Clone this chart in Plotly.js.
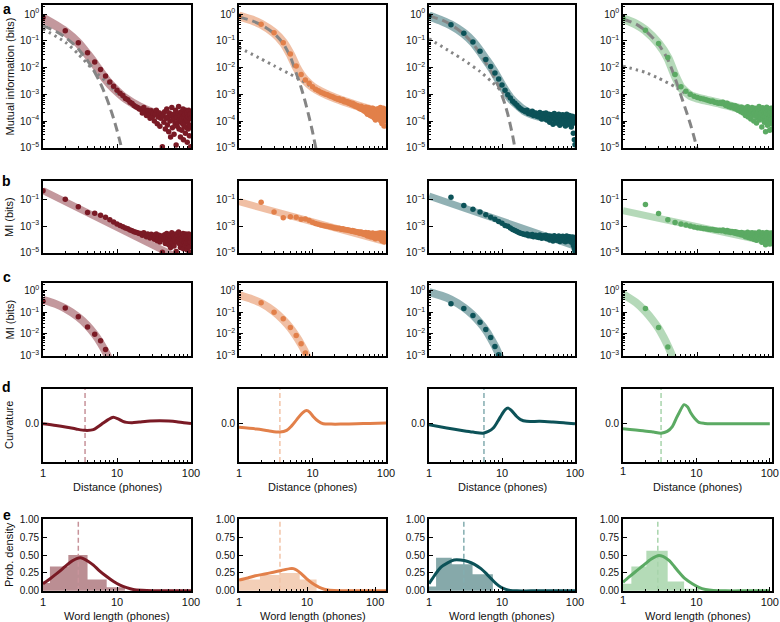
<!DOCTYPE html>
<html><head><meta charset="utf-8">
<script src="https://cdn.plot.ly/plotly-3.0.1.min.js"></script>
<style>html,body{margin:0;padding:0;background:#fff}#chart{width:780px;height:622px}</style>
</head><body><div id="chart"></div>
<script>
// ---------- DATA ----------
const dist = [1,2,3,4,5,6,7,8,9,10,11,12,13,14,15,16,17,18,19,20,21,22,23,24,25,26,27,28,29,30,31,32,33,34,35,36,37,38,39,40,41,42,43,44,45,46,47,48,49,50,51,52,53,54,55,56,57,58,59,60,61,62,63,64,65,66,67,68,69,70,71,72,73,74,75,76,77,78,79,80,81,82,83,84,85,86,87,88,89,90,91,92,93,94,95,96,97,98,99,100];

// Row a: mutual information by distance
const mi1 = [0.75,0.24,0.085,0.036,0.016,0.0085,0.0048,2.9e-3,2.0e-3,1.4e-3,
 1.1e-3,9e-4,7e-4,6.3e-4,5e-4,4.5e-4,3.8e-4,3.4e-4,3.2e-4,2.8e-4,
 2.8e-4,2.0e-4,3.2e-4,2.2e-4,1.6e-4,2.5e-4,1.8e-4,1.26e-4,2.4e-4,1.4e-4,
 2.0e-4,1.0e-4,1.8e-4,2.5e-4,7.9e-5,1.4e-4,2.0e-4,6.3e-5,1.26e-4,1.8e-4,
 1.1e-5,1.6e-4,8.9e-5,2.2e-4,5e-5,1.26e-4,2.8e-4,7.1e-5,1.4e-4,4e-5,
 2.0e-4,1.0e-4,2.5e-5,1.6e-4,3.2e-4,5.6e-5,1.1e-4,1.8e-4,3.2e-5,1.26e-4,
 7.9e-5,2.5e-4,1.26e-5,1.4e-4,6.3e-5,2.0e-4,8.9e-5,3.5e-4,5e-5,1.1e-4,
 1.6e-4,2.5e-5,1.0e-4,2.2e-4,4.5e-5,1.26e-4,7.9e-5,2.8e-4,2.0e-5,1.4e-4,
 6.3e-5,1.8e-4,8.9e-5,3.5e-5,2.5e-4,1.1e-4,5.6e-5,2.0e-4,1.6e-5,1.0e-4,
 1.4e-4,5e-5,2.5e-4,7.1e-5,2.8e-5,1.26e-4,1.8e-4,6.3e-5,1.1e-5,1.26e-4];
const mi2 = [0.85,0.42,0.2,0.085,0.032,0.0115,0.0055,3.4e-3,2.6e-3,1.9e-3,
 1.55e-3,1.35e-3,1.2e-3,1.1e-3,1.0e-3,9.5e-4,8.8e-4,8.3e-4,7.9e-4,7.2e-4,
 7.0e-4,6.5e-4,6.8e-4,6.0e-4,5.8e-4,6.2e-4,5.3e-4,5.5e-4,5.0e-4,5.2e-4,
 4.6e-4,4.9e-4,4.4e-4,4.1e-4,4.6e-4,3.9e-4,4.2e-4,3.6e-4,3.9e-4,3.4e-4,
 3.7e-4,3.2e-4,3.5e-4,2.9e-4,3.3e-4,3.6e-4,2.7e-4,3.1e-4,2.5e-4,3.0e-4,
 2.3e-4,2.9e-4,3.3e-4,2.1e-4,2.7e-4,1.8e-4,2.6e-4,3.1e-4,2.0e-4,2.4e-4,
 1.6e-4,2.8e-4,2.2e-4,1.5e-4,2.5e-4,3.0e-4,1.9e-4,2.3e-4,1.3e-4,2.6e-4,
 2.0e-4,1.1e-4,2.7e-4,1.7e-4,2.2e-4,1.4e-4,1.8e-4,2.9e-4,1.4e-4,2.0e-4,
 1.2e-4,2.4e-4,1.6e-4,3.2e-4,1.0e-4,1.9e-4,2.6e-4,8e-5,1.5e-4,2.2e-4,
 1.3e-4,3.0e-4,1.7e-4,6.5e-5,2.3e-4,1.2e-4,1.9e-4,2.7e-4,1.0e-4,1.6e-4];
const mi3 = [0.85,0.4,0.19,0.09,0.041,0.02,0.011,0.0063,0.0037,0.0022,
 0.0014,9.5e-4,7.2e-4,5.5e-4,4.6e-4,3.9e-4,3.3e-4,2.9e-4,2.6e-4,2.4e-4,
 2.2e-4,2.5e-4,1.9e-4,2.1e-4,1.8e-4,2.3e-4,1.6e-4,1.9e-4,2.0e-4,1.5e-4,
 1.8e-4,1.4e-4,2.1e-4,1.6e-4,1.2e-4,1.7e-4,1.9e-4,1.3e-4,1.5e-4,2.0e-4,
 1.1e-4,1.6e-4,1.4e-4,1.8e-4,9e-5,1.3e-4,1.7e-4,1.2e-4,1.5e-4,7.5e-5,
 1.4e-4,1.9e-4,1.1e-4,1.3e-4,1.6e-4,8.5e-5,1.2e-4,1.5e-4,1.0e-4,1.8e-4,
 1.3e-4,7e-5,1.4e-4,1.1e-4,1.6e-4,9.5e-5,1.2e-4,1.7e-4,8e-5,1.3e-4,
 1.0e-4,1.5e-4,1.2e-4,6.5e-5,1.4e-4,1.1e-4,1.8e-4,9e-5,1.2e-4,1.5e-4,
 7.5e-5,1.3e-4,1.0e-4,1.6e-4,1.1e-4,8.5e-5,1.4e-4,1.2e-4,6e-5,1.3e-4,
 1.0e-4,1.5e-4,8e-5,1.2e-4,3.5e-5,1.4e-4,9e-5,2.0e-5,1.1e-4,1.3e-5];
const mi4 = [0.68,0.25,0.08,0.024,0.0055,0.0019,0.0013,1.0e-3,8.5e-4,7.5e-4,
 7e-4,6.6e-4,6.3e-4,5.8e-4,5.5e-4,5.6e-4,5.0e-4,4.9e-4,4.6e-4,4.8e-4,
 4.5e-4,5.0e-4,4.2e-4,3.8e-4,4.6e-4,3.5e-4,4.0e-4,3.3e-4,3.9e-4,3.6e-4,
 3.0e-4,3.7e-4,2.8e-4,3.4e-4,2.5e-4,3.2e-4,2.9e-4,2.2e-4,3.3e-4,2.6e-4,
 2.0e-4,3.0e-4,2.4e-4,1.6e-4,2.8e-4,2.1e-4,3.4e-4,1.4e-4,2.5e-4,1.9e-4,
 2.9e-4,1.2e-4,2.2e-4,3.2e-4,1.7e-4,2.6e-4,1.0e-4,2.0e-4,3.0e-4,1.5e-4,
 2.4e-4,8.5e-5,1.9e-4,2.8e-4,1.3e-4,2.2e-4,3.5e-4,1.1e-4,1.8e-4,2.6e-4,
 1.4e-4,2.1e-4,6e-5,1.7e-4,3.1e-4,1.2e-4,2.3e-4,1.6e-4,9e-5,2.7e-4,
 1.5e-4,4e-5,2.0e-4,1.1e-4,3.3e-4,1.4e-4,7e-5,2.4e-4,1.8e-4,1.0e-4,
 2.9e-4,1.3e-4,4.5e-5,2.2e-4,1.6e-4,8e-5,3.0e-4,1.2e-4,5e-5,1.9e-4];

// Row a: composite fit
const fitD = [1,1.5,2,3,4,5,6,7,8,10,13,20,30,50,100];
const fitA1 = [0.7,0.37,0.22,0.082,0.031,0.0138,0.0067,0.0037,0.0024,0.0013,7e-4,3.4e-4,2.1e-4,1.4e-4,1.0e-4];
const fitA2 = [0.85,0.6,0.42,0.2,0.087,0.031,0.0107,0.0052,0.0033,0.0019,1.25e-3,7.3e-4,4.9e-4,3.1e-4,1.8e-4];
const fitA3 = [0.85,0.56,0.39,0.19,0.09,0.041,0.02,0.011,0.0062,0.0021,7.2e-4,2.5e-4,1.6e-4,1.26e-4,1.07e-4];
const fitA4 = [0.67,0.42,0.25,0.079,0.023,0.005,0.0018,0.0012,9e-4,7.2e-4,6.0e-4,4.6e-4,3.4e-4,2.4e-4,1.45e-4];
// Row a: exponential component (dashed)
const expX1 = [1,1.5,2,2.5,3,4,5,6,7,8,9,10,11,12];
const expY1 = [0.368,0.223,0.135,0.082,0.0498,0.0183,0.00674,0.00248,9.1e-4,3.35e-4,1.23e-4,4.5e-5,1.67e-5,6.1e-6];
const expX2 = [1,1.5,2,3,4,5,6,7,8,9,10,11,12];
const expY2 = [0.79,0.56,0.4,0.19,0.079,0.025,0.0063,0.0018,5e-4,1.4e-4,4e-5,1.1e-5,3.2e-6];
const expX3 = [1,1.5,2,3,4,5,6,7,8,9,10,11,12,13,14,15,16];
const expY3 = [0.85,0.6,0.4,0.18,0.079,0.034,0.015,0.0076,0.0038,0.0019,8.9e-4,4.2e-4,1.8e-4,7.1e-5,2.8e-5,1.0e-5,4e-6];
const expX4 = [1,1.5,2,3,4,5,6,7,8,9,10,11];
const expY4 = [0.66,0.42,0.24,0.074,0.02,0.004,8.9e-4,2.5e-4,7.9e-5,2.5e-5,7.9e-6,2.5e-6];
// Row a: power-law component (dotted)
const powX = [1,2,3,5,7,10,15,20,30,50,100];
const powY1 = [0.28,0.089,0.032,0.0071,0.0032,0.0011,5e-4,3.2e-4,2e-4,1.4e-4,1.0e-4];
const powY2 = [0.056,0.021,0.0117,0.0056,0.0034,0.0018,1e-3,7.1e-4,4.8e-4,3.0e-4,1.8e-4];
const powY3 = [0.12,0.038,0.019,0.0071,0.0032,0.00126,4.5e-4,2.5e-4,1.6e-4,1.26e-4,1.07e-4];
const powY4 = [0.0112,0.0066,0.004,0.0019,0.00105,7.1e-4,5.5e-4,4.6e-4,3.4e-4,2.3e-4,1.45e-4];

// Row b: MI minus exponential fit (first distances; later distances equal row a)
const resHead1 = [0.44,0.1,0.028,0.0105,0.0089,0.0063,0.0045];
const resHead2 = [null,0.06,0.011,0.0042,0.005,0.0045,0.0032];
const resHead3 = [null,0.14,0.035,0.018,0.011,0.007,0.0045,0.0032,0.0022,0.0016,0.0011];
const resHead4 = [null,0.04,0.0085,0.003,0.0018,0.0014,0.0012];
// Row b: power-law fit
const plX = [1,2,5,10,20,50,100];
const plY1 = [0.44,0.065,5.2e-3,7.8e-4,1.15e-4,9.3e-6,1.4e-6];
const plY2 = [0.066,0.0234,5.9e-3,2.1e-3,7.4e-4,1.9e-4,6.6e-5];
const plY3 = [0.178,0.048,8.6e-3,2.3e-3,6.4e-4,1.14e-4,3.1e-5];
const plY4 = [0.014,6.2e-3,2.0e-3,8.9e-4,3.9e-4,1.3e-4,5.6e-5];

// Row c: MI minus power-law fit, with exponential fit
const cX1 = [1,2,3,4,5,6,7];
const cY1 = [0.33,0.16,0.062,0.021,0.0098,0.0048,0.0019];
const cX2 = [2,3,4,5,6,7,8];
const cY2 = [0.28,0.1,0.05,0.02,0.0085,0.0035,0.0013];
const cX3 = [2,3,4,5,6,7,8,9];
const cY3 = [0.25,0.15,0.072,0.035,0.016,0.0068,0.0026,0.0011];
const cX4 = [2,3,4];
const cY4 = [0.15,0.02,0.0025];
const efX1 = [1,1.5,2,3,4,5,6,7,7.5,8];
const efY1 = [0.38,0.24,0.15,0.06,0.024,0.0095,0.0038,0.0015,0.00095,6e-4];
const efX2 = [1,1.5,2,3,4,5,6,7,8,9,10];
const efY2 = [0.63,0.41,0.27,0.11,0.045,0.019,0.0078,0.0033,0.0014,5.6e-4,2.3e-4];
const efX3 = [1,1.5,2,3,4,5,6,7,8,9,10,11];
const efY3 = [0.87,0.58,0.39,0.17,0.075,0.033,0.015,0.0064,0.0028,0.0012,5.5e-4,2.4e-4];
const efX4 = [1,1.5,2,2.5,3,3.5,4,4.5,5];
const efY4 = [0.7,0.28,0.11,0.044,0.018,0.0071,0.0028,0.0011,4.5e-4];

// Row d: curvature of the fit
const curvX1 = [1,1.5,2.1,2.8,3.7,4.8,5.6,6.5,7.6,8.9,10.4,12,13.5,16,20,28,38,50,64,80,100];
const curvY1 = [0,-0.05,-0.1,-0.15,-0.19,-0.17,-0.08,0.02,0.12,0.19,0.14,0.07,0.04,0.03,0.05,0.08,0.09,0.08,0.06,0.03,0.01];
const curvX2 = [1,1.74,2.5,3.6,4.45,5.2,6.1,7.2,8.3,9.2,10.2,12,14,18,24,40,60,100];
const curvY2 = [-0.1,-0.15,-0.2,-0.24,-0.19,-0.06,0.12,0.3,0.38,0.33,0.21,0.07,0.0,-0.01,-0.01,0.0,0.01,0.02];
const curvX3 = [1,1.75,2.95,4,5.5,6.5,7.6,8.8,9.9,11,12.2,13.5,15.9,18,21.7,33,50,70,100];
const curvY3 = [-0.03,-0.12,-0.2,-0.24,-0.27,-0.22,-0.12,0.08,0.26,0.4,0.45,0.38,0.21,0.12,0.07,0.07,0.05,0.03,0.0];
const curvX4 = [1,1.87,2.6,3.3,4.0,4.7,5.3,5.8,6.8,7.6,8.4,9.5,10.8,13,16.3,25,50,100];
const curvY4 = [-0.14,-0.2,-0.24,-0.27,-0.22,-0.08,0.15,0.31,0.55,0.48,0.31,0.15,0.04,0.01,0,0,0,0];
const transition = [3.7,3.6,5.66,3.3];

// Row e: word length distributions
const histEdges1 = [0.69,1.24,2.2,4.0,7.25,12.8];
const histH1 = [0.11,0.34,0.5,0.16,0.05];
const histEdges2 = [1.0,2.03,4.0,7.8,13.8];
const histH2 = [0.16,0.22,0.25,0.16];
const histEdges3 = [0.8,1.25,2.05,3.95,7.5];
const histH3 = [0.06,0.46,0.37,0.23];
const histEdges4 = [0.8,1.3,2.08,4.06,6.8,11];
const histH4 = [0.1,0.34,0.56,0.13,0.03];
const kdeX1 = [1,1.25,1.53,1.8,2.09,2.5,2.85,3.2,3.5,4.1,4.8,5.8,7.25,9,11,13.5,16.6,22,30,50,100];
const kdeY1 = [0.1,0.17,0.24,0.3,0.36,0.42,0.45,0.46,0.45,0.41,0.36,0.28,0.2,0.13,0.08,0.045,0.02,0.008,0.002,0,0];
const kdeX2 = [1,1.35,1.74,2.4,3.2,4.2,5.6,6.3,7.0,8.2,9.8,11.8,13.8,16.5,19.4,25,40,70,145];
const kdeY2 = [0.15,0.18,0.21,0.235,0.26,0.285,0.31,0.31,0.29,0.24,0.17,0.11,0.07,0.035,0.015,0.004,0,0,0];
const kdeX3 = [1,1.2,1.46,1.8,2.2,2.7,3.4,4.2,5.15,6.1,7.1,8.3,9.7,11.3,13,16,25,50,100];
const kdeY3 = [0.1,0.22,0.33,0.39,0.43,0.43,0.41,0.37,0.31,0.24,0.17,0.1,0.05,0.02,0.005,0,0,0,0];
const kdeX4 = [1,1.2,1.45,1.87,2.4,2.98,3.5,4.27,5.0,5.8,7.0,8.8,10.8,13.3,17,25,50,100];
const kdeY4 = [0.12,0.19,0.26,0.35,0.44,0.49,0.48,0.42,0.34,0.26,0.17,0.1,0.05,0.02,0.005,0,0,0];
const medianLen = [3.0,4.0,3.0,2.98];

// Tick labels
const miTickVals = [1e-5,1e-4,1e-3,1e-2,1e-1,1];
const miTickText = ['10<sup>−5</sup>','10<sup>−4</sup>','10<sup>−3</sup>','10<sup>−2</sup>','10<sup>−1</sup>','10<sup>0</sup>'];
const resTickVals = [1e-5,1e-3,1e-1];
const resTickText = ['10<sup>−5</sup>','10<sup>−3</sup>','10<sup>−1</sup>'];
const expTickVals = [1e-3,1e-2,1e-1,1];
const expTickText = ['10<sup>−3</sup>','10<sup>−2</sup>','10<sup>−1</sup>','10<sup>0</sup>'];
const xTickVals = [1,10,100];
const xTickText = ['1','10','100'];
const densTickVals = [0,0.25,0.5,0.75,1];
const densTickText = ['0.00','0.25','0.50','0.75','1.00'];

// ---------- STYLE ----------
const mainC = ['#7a1a25','#e2804a','#0c5258','#5baa63'];
const bandC = ['rgba(122,26,37,0.45)','rgba(226,128,74,0.5)','rgba(12,82,88,0.45)','rgba(91,170,99,0.45)'];
const lightC = ['#c7939a','#f2c4a8','#84adb0','#a8d4ac'];
const histC = ['#bb8e93','#f3cfb7','#86a9aa','#b4dbb7'];
const W = 780, H = 622;
const colL = [43,239,429,623], colR = [191,386,575,772];
const rowT = [5,181,283,389,519], rowB = [148,253,356,462,591];
const yRanges = [[-5.01,0.34],[-5.02,0.37],[-3.02,0.36],[-1.1,1.0],[-0.002,1.002]];

const mi = [mi1,mi2,mi3,mi4];
const fitA = [fitA1,fitA2,fitA3,fitA4];
const expX = [expX1,expX2,expX3,expX4], expY = [expY1,expY2,expY3,expY4];
const powY = [powY1,powY2,powY3,powY4];
const res = [resHead1.concat(mi1.slice(7)), resHead2.concat(mi2.slice(7)), resHead3.concat(mi3.slice(11)), resHead4.concat(mi4.slice(7))];
const plY = [plY1,plY2,plY3,plY4];
const cX = [cX1,cX2,cX3,cX4], cY = [cY1,cY2,cY3,cY4];
const efX = [efX1,efX2,efX3,efX4], efY = [efY1,efY2,efY3,efY4];
const curvX = [curvX1,curvX2,curvX3,curvX4], curvY = [curvY1,curvY2,curvY3,curvY4];
const hE = [histEdges1,histEdges2,histEdges3,histEdges4], hH = [histH1,histH2,histH3,histH4];
const kX = [kdeX1,kdeX2,kdeX3,kdeX4], kY = [kdeY1,kdeY2,kdeY3,kdeY4];

const traces = [], annotations = [];
const layout = {width:W,height:H,margin:{l:0,r:0,t:0,b:0},paper_bgcolor:'#fff',plot_bgcolor:'#fff',
  showlegend:false,font:{family:'Liberation Sans, Arial, Helvetica, sans-serif',color:'#111'}};

function sfx(r,c){const n=r*4+c+1;return n===1?'':String(n);}
function add(r,c,t){const s=sfx(r,c);t.xaxis='x'+s;t.yaxis='y'+s;t.showlegend=false;t.hoverinfo='skip';traces.push(t);}

const minorX=[]; [1,10].forEach(k=>{for(let m=2;m<=9;m++)minorX.push(m*k);});
function minorLog(k0,k1){const a=[];for(let k=k0;k<=k1;k++){for(let m=2;m<=9;m++)a.push(m*Math.pow(10,k));}return a;}

function baseAxis(){return {showline:true,mirror:true,linecolor:'#000',linewidth:1.8,ticks:'inside',ticklen:4,tickwidth:1,
  tickcolor:'#000',showgrid:false,zeroline:false,fixedrange:true,ticklabeloverflow:'allow',automargin:false,tickfont:{size:10,color:'#111'}};}

for(let r=0;r<5;r++){
  for(let c=0;c<4;c++){
    const s=sfx(r,c);
    const xa=baseAxis();
    xa.type='log';xa.domain=[colL[c]/W,colR[c]/W];
    let xr=[0,2];
    if(r===4&&c===1) xr=[0,2.16];
    if(r>=3&&c===3) xr=[0,2.03];
    xa.range=xr;xa.side='bottom';
    xa.anchor='y'+s;xa.tickmode='array';
    // right-hand column: the "1" label is written as a paper annotation below
    xa.tickvals=(c===3)?xTickVals.slice(1):xTickVals;xa.ticktext=(c===3)?xTickText.slice(1):xTickText;
    xa.showticklabels=r>=3;xa.tickfont={size:11,color:'#111'};
    xa.minor={tickmode:'array',tickvals:minorX,ticks:'inside',ticklen:2.5,tickwidth:1,tickcolor:'#000'};
    const ya=baseAxis();
    ya.domain=[1-rowB[r]/H,1-rowT[r]/H];ya.anchor='x'+s;ya.tickmode='array';ya.range=yRanges[r];ya.side='left';
    if(r===0){ya.type='log';ya.tickvals=miTickVals;ya.ticktext=miTickText;
      ya.minor={tickmode:'array',tickvals:minorLog(-5,0),ticks:'inside',ticklen:2,tickwidth:1,tickcolor:'#000'};}
    else if(r===1){ya.type='log';ya.tickvals=resTickVals;ya.ticktext=resTickText;}
    else if(r===2){ya.type='log';ya.tickvals=expTickVals;ya.ticktext=expTickText;
      ya.minor={tickmode:'array',tickvals:minorLog(-3,0),ticks:'inside',ticklen:2,tickwidth:1,tickcolor:'#000'};}
    else if(r===3){ya.tickvals=[0];ya.ticktext=['0.0'];}
    else {ya.tickvals=densTickVals;ya.ticktext=densTickText;}
    layout['xaxis'+s]=xa;layout['yaxis'+s]=ya;
  }
}

for(let c=0;c<4;c++){
  // row a
  add(0,c,{x:fitD,y:fitA[c],mode:'lines',line:{color:bandC[c],width:9,shape:'spline',smoothing:0.6}});
  add(0,c,{x:powX,y:powY[c],mode:'lines',line:{color:'#858585',width:3,dash:'2.5px,4px',shape:'spline',smoothing:0.6}});
  add(0,c,{x:expX[c],y:expY[c],mode:'lines',line:{color:'#858585',width:3,dash:'9px,5px',shape:'spline',smoothing:0.6}});
  add(0,c,{x:dist,y:mi[c],mode:'markers',marker:{color:mainC[c],size:5.5}});
  // row b
  add(1,c,{x:plX,y:plY[c],mode:'lines',line:{color:bandC[c],width:7}});
  add(1,c,{x:dist,y:res[c],mode:'markers',marker:{color:mainC[c],size:5.5}});
  // row c
  add(2,c,{x:efX[c],y:efY[c],mode:'lines',line:{color:bandC[c],width:8,shape:'spline',smoothing:0.6}});
  add(2,c,{x:cX[c],y:cY[c],mode:'markers',marker:{color:mainC[c],size:5.5}});
  // row d: transition marker then curvature
  add(3,c,{x:[transition[c],transition[c]],y:yRanges[3],mode:'lines',line:{color:lightC[c],width:1.5,dash:'5px,3px'}});
  add(3,c,{x:curvX[c],y:curvY[c],mode:'lines',line:{color:mainC[c],width:3,shape:'spline',smoothing:0.8}});
  // row e: histogram, median marker, density
  const px=[hE[c][0]],py=[0];
  for(let i=0;i<hH[c].length;i++){px.push(hE[c][i],hE[c][i+1]);py.push(hH[c][i],hH[c][i]);}
  px.push(hE[c][hE[c].length-1]);py.push(0);
  add(4,c,{x:px,y:py,mode:'lines',fill:'toself',fillcolor:histC[c],line:{width:0,color:histC[c]}});
  add(4,c,{x:[medianLen[c],medianLen[c]],y:[0,1],mode:'lines',line:{color:lightC[c],width:1.5,dash:'5px,3px'}});
  add(4,c,{x:kX[c],y:kY[c],mode:'lines',line:{color:mainC[c],width:3,shape:'spline',smoothing:0.8}});
  // x titles
  const cx=(colL[c]+colR[c])/2/W;
  annotations.push({text:'Distance (phones)',xref:'paper',yref:'paper',x:cx,y:1-487/H,showarrow:false,xanchor:'center',yanchor:'middle',font:{size:11}});
  annotations.push({text:'Word length (phones)',xref:'paper',yref:'paper',x:cx,y:1-616/H,showarrow:false,xanchor:'center',yanchor:'middle',font:{size:11}});
}
[470.5,599.5].forEach(yy=>{
  annotations.push({text:xTickText[0],xref:'paper',yref:'paper',x:colL[3]/W,y:1-yy/H,showarrow:false,
    xanchor:'center',yanchor:'middle',font:{size:11,color:'#111'}});
});

const yTitles=[['Mutual information (bits)',76.5],['MI (bits)',217],['MI (bits)',319.5],['Curvature',425],['Prob. density',555]];
yTitles.forEach(t=>annotations.push({text:t[0],xref:'paper',yref:'paper',x:9/W,y:1-t[1]/H,textangle:-90,showarrow:false,
  xanchor:'center',yanchor:'middle',font:{size:11}}));
const letters=[['a',9],['b',181],['c',277],['d',387],['e',515]];
letters.forEach(t=>annotations.push({text:'<b>'+t[0]+'</b>',xref:'paper',yref:'paper',x:7/W,y:1-t[1]/H,showarrow:false,
  xanchor:'center',yanchor:'middle',font:{size:14,color:'#000'}}));

layout.annotations=annotations;
Plotly.newPlot('chart',traces,layout,{staticPlot:true,displayModeBar:false});
</script></body></html>
